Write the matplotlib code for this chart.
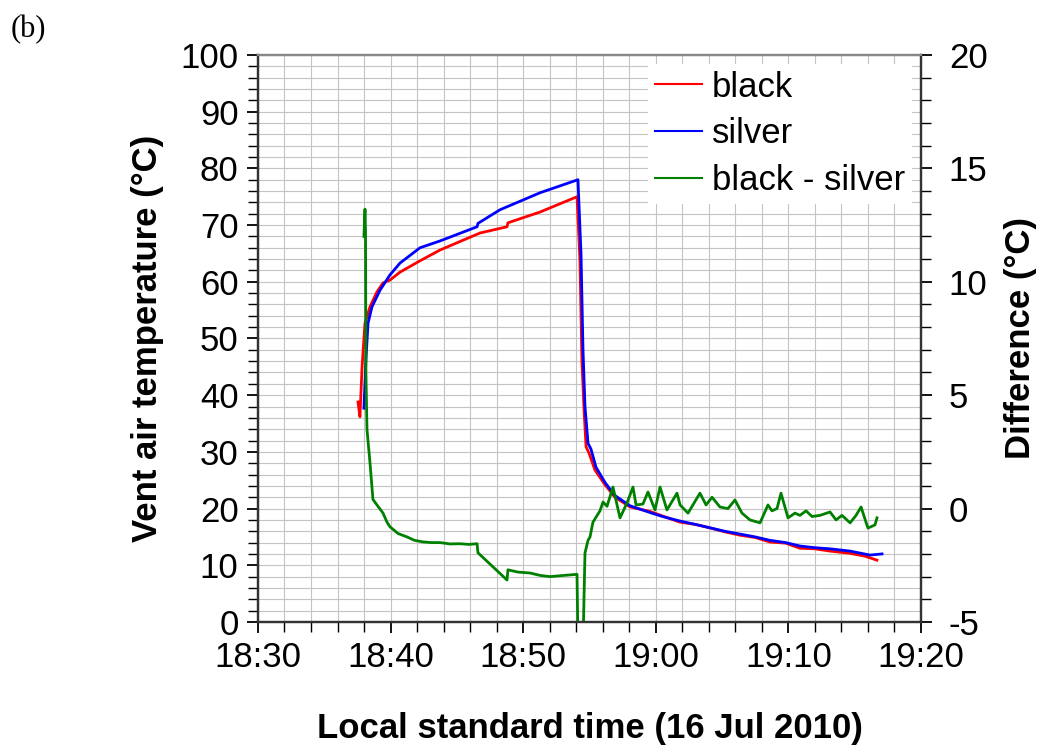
#!/usr/bin/env python3
"""Vent air temperature, black vs silver, with difference on a second axis."""
import matplotlib
matplotlib.use("Agg")
import matplotlib.pyplot as plt
from matplotlib.ticker import MultipleLocator, FuncFormatter

# time in minutes after 18:30, temperatures in degC
black_t = [7.54, 7.69, 7.85, 8.07, 8.45, 8.97, 9.43, 9.95, 10.71, 12.22, 13.73,
           16.74, 18.78, 18.85, 21.27, 24.06, 24.28, 24.43, 24.59, 24.74, 24.96,
           25.41, 26.17, 26.92, 28.05, 29.56, 30.5, 31.83, 33.0, 34.09, 35.2,
           36.35, 37.5, 38.61, 39.8, 40.87, 42.0, 43.14, 44.65, 45.78, 46.68]
black_v = [38.8, 36.2, 45.0, 52.7, 55.6, 58.2, 59.8, 60.3, 61.7, 63.7, 65.6,
           68.6, 69.7, 70.4, 72.3, 75.0, 63.8, 46.0, 37.4, 30.9, 29.8,
           26.8, 24.2, 22.0, 20.3, 19.5, 18.7, 17.6, 17.2, 16.6, 15.9,
           15.3, 14.9, 14.1, 13.9, 13.0, 12.9, 12.5, 12.1, 11.6, 10.9]

silver_t = [7.99, 8.14, 8.30, 8.60, 9.20, 9.95, 10.71, 12.22, 13.73, 16.52,
            16.59, 18.25, 21.27, 24.13, 24.36, 24.51, 24.66, 24.89, 25.11,
            25.49, 26.17, 26.92, 28.05, 29.56, 30.5, 31.83, 33.0, 34.09, 35.2,
            36.35, 37.5, 38.61, 39.8, 40.87, 42.0, 43.14, 44.65, 46.15, 47.06]
silver_v = [37.7, 46.2, 52.7, 55.6, 58.5, 61.2, 63.3, 66.0, 67.2, 69.7,
            70.3, 72.7, 75.7, 78.0, 65.0, 48.0, 38.0, 31.5, 30.5,
            27.3, 24.6, 22.3, 20.5, 19.3, 18.6, 17.8, 17.2, 16.6, 16.0,
            15.5, 15.0, 14.4, 14.0, 13.4, 13.1, 12.9, 12.5, 11.8, 12.0]

diff_t = [7.99, 8.07, 8.11, 8.14, 8.22, 8.45, 8.67, 9.05, 9.43, 9.73, 9.95,
          10.56, 11.24, 11.8, 12.44, 13.1, 13.73, 14.5, 15.23, 15.9, 16.52,
          16.59, 18.78, 18.85, 19.6, 20.51, 21.3, 22.02, 23.0, 24.06, 24.13,
          24.51, 24.66, 24.89, 25.04, 25.26, 25.79, 26.02,
          26.32, 26.77, 27.30, 27.83, 28.28, 28.51, 29.03, 29.41, 29.94, 30.32,
          30.84, 31.60, 31.83, 32.43, 33.33, 33.79, 34.24, 34.84, 35.44, 35.97,
          36.50, 37.10, 37.86, 38.46, 38.76, 39.14, 39.44, 39.97, 40.50, 40.87,
          41.33, 41.78, 42.38, 43.14, 43.59, 44.04, 44.65, 45.10, 45.48, 45.85,
          46.00, 46.53, 46.68]
diff_v = [12.0, 13.2, 12.2, 6.0, 3.5, 2.0, 0.4, 0.1, -0.2, -0.6, -0.8,
          -1.1, -1.25, -1.4, -1.47, -1.5, -1.5, -1.56, -1.55, -1.58, -1.55,
          -1.95, -3.15, -2.7, -2.8, -2.84, -2.95, -3.0, -2.95, -2.9, -6.0,
          -6.0, -1.96, -1.4, -1.25, -0.6, -0.1, 0.29,
          0.1, 0.95, -0.41, 0.25, 0.95, 0.16, 0.2, 0.73, -0.06, 0.95,
          -0.06, 0.68, 0.16, -0.2, 0.68, 0.16, 0.5, 0.07, 0.0, 0.38,
          -0.2, -0.5, -0.63, 0.16, -0.1, 0.0, 0.68, -0.41, -0.2, -0.3,
          -0.1, -0.35, -0.3, -0.15, -0.5, -0.3, -0.63, -0.3, 0.07, -0.6,
          -0.86, -0.72, -0.41]

FONT = "Liberation Sans"


def hhmm(m, _pos):
    tot = int(round(18 * 60 + 30 + m))
    return f"{tot // 60}:{tot % 60:02d}"


def main():
    plt.rcParams["font.family"] = FONT
    plt.rcParams["axes.unicode_minus"] = False
    fig = plt.figure(figsize=(10.44, 7.5), dpi=100)
    ax = fig.add_axes([0.2471, 0.1707, 0.6351, 0.7560])
    ax2 = ax.twinx()

    l1, = ax.plot(black_t, black_v, color="#ff0000", lw=2.0, label="black")
    l2, = ax.plot(silver_t, silver_v, color="#0000ff", lw=2.0, label="silver")
    l3, = ax2.plot(diff_t, diff_v, color="#008000", lw=2.0, label="black - silver")

    ax.set_xlim(0, 50)
    ax.set_ylim(0, 100)
    ax2.set_ylim(-5, 20)
    ax.xaxis.set_major_locator(MultipleLocator(10))
    ax.xaxis.set_minor_locator(MultipleLocator(2))
    ax.xaxis.set_major_formatter(FuncFormatter(hhmm))
    ax.yaxis.set_major_locator(MultipleLocator(10))
    ax.yaxis.set_minor_locator(MultipleLocator(2))
    ax2.yaxis.set_major_locator(MultipleLocator(5))
    ax2.yaxis.set_minor_locator(MultipleLocator(1))

    ax.set_axisbelow(True)
    ax.grid(True, which="both", color="#c4c4c4", lw=0.8)
    for a in (ax, ax2):
        a.tick_params(which="major", direction="out", length=8, width=1.3,
                      labelsize=25, pad=6)
        a.tick_params(which="minor", direction="out", length=7, width=1.0)
        for s in a.spines.values():
            s.set_linewidth(1.6)
            s.set_color("#333333")
        a.spines["top"].set_color("#888888")
    ax2.tick_params(axis="y", which="major", pad=12)

    ax.set_xlabel("Local standard time (16 Jul 2010)", fontsize=25,
                  fontweight="bold", labelpad=27)
    ax.set_ylabel("Vent air temperature (°C)", fontsize=25, fontweight="bold",
                  labelpad=12)
    ax2.set_ylabel("Difference (°C)", fontsize=25, fontweight="bold", labelpad=12)

    leg = ax2.legend(handles=[l1, l2, l3], loc="upper right", fontsize=25,
                     frameon=True, fancybox=False, framealpha=1.0,
                     borderpad=0.2, handlelength=1.35, handletextpad=0.3,
                     labelspacing=0.4, borderaxespad=0.25)
    leg.get_frame().set_edgecolor("none")
    for h in leg.get_lines():
        h.set_linewidth(1.5)

    fig.text(0.010, 0.950, "(b)", fontsize=22, family="Liberation Serif")
    fig.savefig("out.png", dpi=100)


if __name__ == "__main__":
    main()
